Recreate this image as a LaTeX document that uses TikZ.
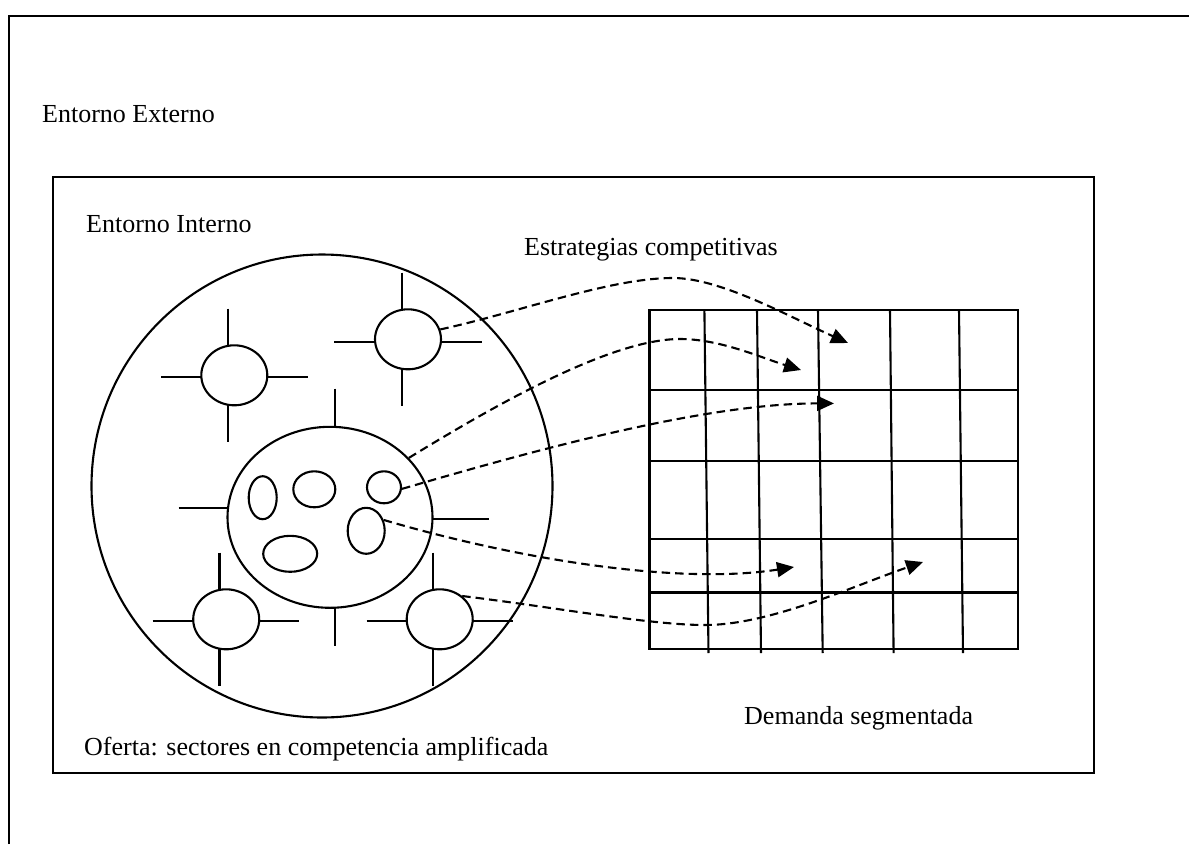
\documentclass[tikz,border=0pt]{standalone}
\usepackage{fontspec}
\setmainfont{Liberation Serif}
\usetikzlibrary{shapes.geometric,arrows.meta}
\begin{document}
\begin{tikzpicture}[x=1pt,y=-1pt,
  ln/.style={line width=2.1pt},
  ell/.style={ellipse,draw,line width=2.1pt,fill=white,inner sep=0pt},
  lbl/.style={anchor=base west,inner sep=0pt,font=\fontsize{26}{31}\selectfont},
  strat/.style={line width=2.1pt,dash pattern=on 8.5pt off 5pt,-{Triangle[length=17pt,width=15pt]}}]
\useasboundingbox (0,0) rectangle (1189,844);
% outer frame (open)
\draw[ln] (9,844) -- (9,16) -- (1189,16);
% inner frame
\draw[ln] (53,177) rectangle (1094,773);
% labels
\node[lbl] (ext) at (42,122) {Entorno Externo};
\node[lbl] (int) at (86,232) {Entorno Interno};
\node[lbl] (est) at (524,255) {Estrategias competitivas};
\node[lbl] (dem) at (744,724) {Demanda segmentada};
\node[lbl] (ofe) at (84,755) {Oferta: sectores en competencia amplificada};
% big circle
\node[ell,fill=none,minimum width=461pt,minimum height=463pt] (big) at (322,486) {};
% spokes
\draw[ln] (227.7,308.7) -- (227.7,441.7);
\draw[ln] (161,377.3) -- (307.7,377.3);
\draw[ln] (401.7,272.7) -- (401.7,405.7);
\draw[ln] (334.3,341.7) -- (481.7,341.7);
\draw[ln] (219.5,552.7) -- (219.5,686);
\draw[ln] (152.7,621.3) -- (299.3,621.3);
\draw[ln] (433.3,552.7) -- (433.3,686);
\draw[ln] (366.7,621.3) -- (513.3,621.3);
\draw[ln] (335,388.7) -- (335,427);
\draw[ln] (335,607.7) -- (335,646);
\draw[ln] (178.7,507.7) -- (228,507.7);
\draw[ln] (432,519.3) -- (489.3,519.3);
% satellite ellipses
\node[ell,minimum width=66pt,minimum height=60pt] (A) at (234.3,375.3) {};
\node[ell,minimum width=66pt,minimum height=60pt] (B) at (408,339.3) {};
\node[ell,minimum width=66pt,minimum height=60pt] (D) at (226.2,619.3) {};
\node[ell,minimum width=66pt,minimum height=60pt] (E) at (439.7,619.3) {};
% central sector
\node[ell,minimum width=205pt,minimum height=181pt] (C) at (330,517.3) {};
\node[ell,minimum width=28pt,minimum height=43pt] (c1) at (262.7,497.7) {};
\node[ell,minimum width=42pt,minimum height=36pt] (c2) at (314.3,489.3) {};
\node[ell,minimum width=34pt,minimum height=32pt] (c3) at (384,487.3) {};
\node[ell,minimum width=37pt,minimum height=46pt] (c4) at (366.2,530.8) {};
\node[ell,minimum width=54pt,minimum height=36pt] (c5) at (290.2,553.8) {};
% segmented demand grid
\draw[ln] (649.5,309.6) rectangle (1018,648.7);
\foreach \y in {390,461,538.6,592.5} \draw[ln] (649.5,\y) -- (1018,\y);
\draw[ln] (704.4,309.6) -- (708.5,653);
\draw[ln] (757,309.6) -- (761,653);
\draw[ln] (818,309.6) -- (822.7,653);
\draw[ln] (890,309.6) -- (893.6,653);
\draw[ln] (959,309.6) -- (963,653);
% arrow targets
\coordinate (t1) at (848,343);
\coordinate (t2) at (801,370);
\coordinate (t3) at (834,403.4);
\coordinate (t4) at (794,567);
\coordinate (t5) at (923,562);
% competitive strategies
\draw[strat] (B.17) .. controls (520,312) and (610,278) .. (673,278) .. controls (720,278) and (788,316) .. (t1);
\draw[strat] (C.37) .. controls (492,407) and (610,339) .. (680,339) .. controls (720,339) and (761,357.6) .. (t2);
\draw[strat] (c3.-5) .. controls (522,454) and (700,403.4) .. (t3);
\draw[strat] (c4.32) .. controls (520,560) and (680,585) .. (t4);
\draw[strat] (E.46) .. controls (560,608) and (650,625) .. (705,625) .. controls (770,625) and (853,586) .. (t5);
\end{tikzpicture}
\end{document}
